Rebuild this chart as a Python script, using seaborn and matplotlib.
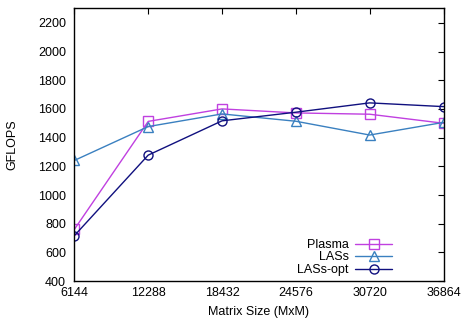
import matplotlib
matplotlib.use("Agg")
import matplotlib.pyplot as plt
import seaborn as sns
import pandas as pd

sizes = [6144, 12288, 18432, 24576, 30720, 36864]
plasma = [761, 1513, 1600, 1572, 1563, 1500]
lass = [1241, 1477, 1565, 1514, 1418, 1506]
lass_opt = [717, 1278, 1517, 1577, 1642, 1616]
series_names = ["Plasma", "LASs", "LASs-opt"]
yticks = [400, 600, 800, 1000, 1200, 1400, 1600, 1800, 2000, 2200]

sns.set_theme(style="white")
plt.rcParams['font.family'] = ['Liberation Sans', 'DejaVu Sans']
plt.rcParams['text.color'] = 'black'
plt.rcParams['axes.labelcolor'] = 'black'

df = pd.DataFrame({
    "size": sizes * 3,
    "gflops": plasma + lass + lass_opt,
    "series": [series_names[0]] * 6 + [series_names[1]] * 6 + [series_names[2]] * 6,
})

colors = {"Plasma": "#c040e0", "LASs": "#3a80c0", "LASs-opt": "#10107f"}
markers = {"Plasma": "s", "LASs": "^", "LASs-opt": "o"}

fig = plt.figure(figsize=(4.62, 3.25), dpi=100)
ax = fig.add_axes([0.161, 0.135, 0.799, 0.839])

for name in series_names:
    sub = df[df["series"] == name]
    sns.lineplot(data=sub, x="size", y="gflops", ax=ax, color=colors[name],
                 marker=markers[name], markersize=6.5, markerfacecolor="none",
                 markeredgecolor=colors[name], markeredgewidth=1.0,
                 linewidth=1.0, label=name)

ax.set_xlim(6144, 36864)
ax.set_ylim(400, 2300)
ax.set_xticks(sizes)
ax.set_xticklabels([str(s) for s in sizes])
ax.set_yticks(yticks)
ax.set_yticklabels([str(t) for t in yticks])
ax.set_xlabel("Matrix Size (MxM)", fontsize=9, labelpad=5)
ax.set_ylabel("GFLOPS", fontsize=9, labelpad=14)
ax.tick_params(axis="both", which="both", direction="in", length=4, width=0.8,
               labelsize=9, top=True, right=True, colors="black", labelcolor="black")
ax.tick_params(axis="y", pad=6)
ax.tick_params(axis="x", pad=4)
for sp in ax.spines.values():
    sp.set_color("black")
    sp.set_linewidth(1.0)

leg = ax.legend(loc="lower right", bbox_to_anchor=(0.875, 0.0), frameon=False,
                markerfirst=False, fontsize=9, handlelength=3.0,
                labelspacing=0.05, borderaxespad=0.0, handletextpad=0.5)
for t in leg.get_texts():
    t.set_color("black")
fig.savefig("out.png", dpi=100)
